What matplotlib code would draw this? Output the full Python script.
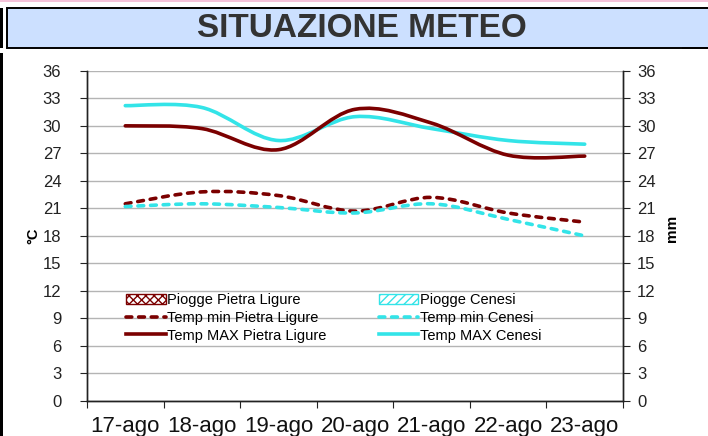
import numpy as np
import matplotlib
matplotlib.use("Agg")
import matplotlib.pyplot as plt
from matplotlib.path import Path
from matplotlib.patches import PathPatch, Rectangle, Patch
from matplotlib.lines import Line2D

plt.rcParams['font.family'] = ['Liberation Sans', 'DejaVu Sans']

days = ["17-ago", "18-ago", "19-ago", "20-ago", "21-ago", "22-ago", "23-ago"]
tmax_pietra = [30.0, 29.7, 27.4, 31.8, 30.3, 26.8, 26.7]
tmax_cenesi = [32.2, 32.0, 28.4, 31.0, 29.7, 28.4, 28.0]
tmin_pietra = [21.5, 22.8, 22.4, 20.7, 22.2, 20.5, 19.5]
tmin_cenesi = [21.2, 21.5, 21.1, 20.5, 21.5, 19.8, 18.0]
rain_pietra = [0, 0, 0, 0, 0, 0, 0]
rain_cenesi = [0, 0, 0, 0, 0, 0, 0]

RED = "#7b0000"
CYAN = "#33e4e8"

W, H = 708, 436
fig = plt.figure(figsize=(W / 100, H / 100), dpi=100)

def fx(px):
    return px / W

def fy(py):
    return 1 - py / H

# decorations: pink top line, left border, title banner
fig.patches.append(Rectangle((0, fy(2)), 1, 2 / H, transform=fig.transFigure,
                             facecolor="#f5c3da", edgecolor="none"))
fig.patches.append(Rectangle((0, fy(48)), 2.5 / W, 40 / H, transform=fig.transFigure,
                             facecolor="black", edgecolor="none"))
fig.patches.append(Rectangle((0, 0), 2.5 / W, fy(53), transform=fig.transFigure,
                             facecolor="black", edgecolor="none"))
fig.patches.append(Rectangle((fx(7), fy(48)), fx(720 - 7), 40 / H, transform=fig.transFigure,
                             facecolor="#cce0ff", edgecolor="black", linewidth=1.4))
fig.patches.append(Rectangle((fx(682), fy(49)), fx(30), 2 / H, transform=fig.transFigure,
                             facecolor="black", edgecolor="none"))
fig.text(fx(362), fy(28), "SITUAZIONE METEO", ha="center", va="center",
         fontsize=24, fontweight="bold", color="#333333")

ax = fig.add_axes([fx(87), fy(401), fx(623 - 87), (401 - 70.8) / H])
ax2 = ax.twinx()
x = np.arange(len(days))

# rain bars on the secondary axis (all zero in this period)
ax2.bar(x - 0.18, rain_pietra, width=0.35, facecolor="white", edgecolor=RED, hatch="xxxx", linewidth=0)
ax2.bar(x + 0.18, rain_cenesi, width=0.35, facecolor="white", edgecolor=CYAN, hatch="////", linewidth=0)


def smooth(ax, xs, ys, **kw):
    # Excel-like smoothed line: cubic Bezier segments through the points
    pts = np.column_stack([xs, ys]).astype(float)
    n = len(pts)
    verts = [pts[0]]
    codes = [Path.MOVETO]
    for i in range(n - 1):
        p0 = pts[max(i - 1, 0)]
        p1 = pts[i]
        p2 = pts[i + 1]
        p3 = pts[min(i + 2, n - 1)]
        c1 = p1 + (p2 - p0) / 6
        c2 = p2 - (p3 - p1) / 6
        verts += [c1, c2, p2]
        codes += [Path.CURVE4] * 3
    ax.add_patch(PathPatch(Path(verts, codes), fill=False, **kw))


dash = (0, (1.6, 1.9))
smooth(ax, x, tmin_pietra, edgecolor=RED, linewidth=2.6, linestyle=dash, capstyle="round", zorder=3)
smooth(ax, x, tmin_cenesi, edgecolor=CYAN, linewidth=2.6, linestyle=dash, capstyle="round", zorder=3)
smooth(ax, x, tmax_cenesi, edgecolor=CYAN, linewidth=2.6, capstyle="round", zorder=3)
smooth(ax, x, tmax_pietra, edgecolor=RED, linewidth=2.6, capstyle="round", zorder=4)

for a in (ax, ax2):
    a.set_ylim(0, 36)
    a.set_yticks(np.arange(0, 37, 3))
    a.set_xlim(-0.5, len(days) - 0.5)
    a.spines["top"].set_visible(False)
    for s in ("left", "right", "bottom"):
        a.spines[s].set_color("#222222")
        a.spines[s].set_linewidth(1)

ax.yaxis.grid(True, color="#b4b4b4", linewidth=1)
ax.set_axisbelow(True)
ax.tick_params(axis="y", direction="out", length=5, pad=13.5, labelsize=12, labelcolor="#222222", color="#222222")
ax2.tick_params(axis="y", direction="out", length=5, pad=5, labelsize=12, labelcolor="#222222", color="#222222")

ax.set_xticks(np.arange(-0.5, len(days), 1))
ax.set_xticklabels([])
ax.set_xticks(x, minor=True)
ax.set_xticklabels(days, minor=True, fontsize=16, color="#111111")
ax.tick_params(axis="x", which="major", direction="out", length=5, color="#222222")
ax.tick_params(axis="x", which="minor", length=0, pad=11)

fig.text(fx(33), fy(236), "°C", rotation=90, ha="center", va="center", fontsize=10.5, fontweight="bold")
fig.text(fx(672), fy(228), "mm", rotation=90, ha="center", va="center", fontsize=11, fontweight="bold")

handles = [
    Patch(facecolor="white", edgecolor=RED, hatch="xxxx"),
    Line2D([], [], color=RED, linewidth=2.6, linestyle=dash, dash_capstyle="round"),
    Line2D([], [], color=RED, linewidth=2.6),
    Patch(facecolor="white", edgecolor=CYAN, hatch="////"),
    Line2D([], [], color=CYAN, linewidth=2.6, linestyle=dash, dash_capstyle="round"),
    Line2D([], [], color=CYAN, linewidth=2.6),
]
labels = ["Piogge Pietra Ligure", "Temp min Pietra Ligure", "Temp MAX Pietra Ligure",
          "Piogge Cenesi", "Temp min Cenesi", "Temp MAX Cenesi"]
ax2.legend(handles, labels, ncol=2, loc="upper left", bbox_to_anchor=(fx(119), fy(286)),
           bbox_transform=fig.transFigure, frameon=False, fontsize=10.5,
           handlelength=2.7, handleheight=0.7, handletextpad=0.1, labelspacing=0.25,
           columnspacing=3.6, borderpad=0)

fig.savefig("out.png", dpi=100)
